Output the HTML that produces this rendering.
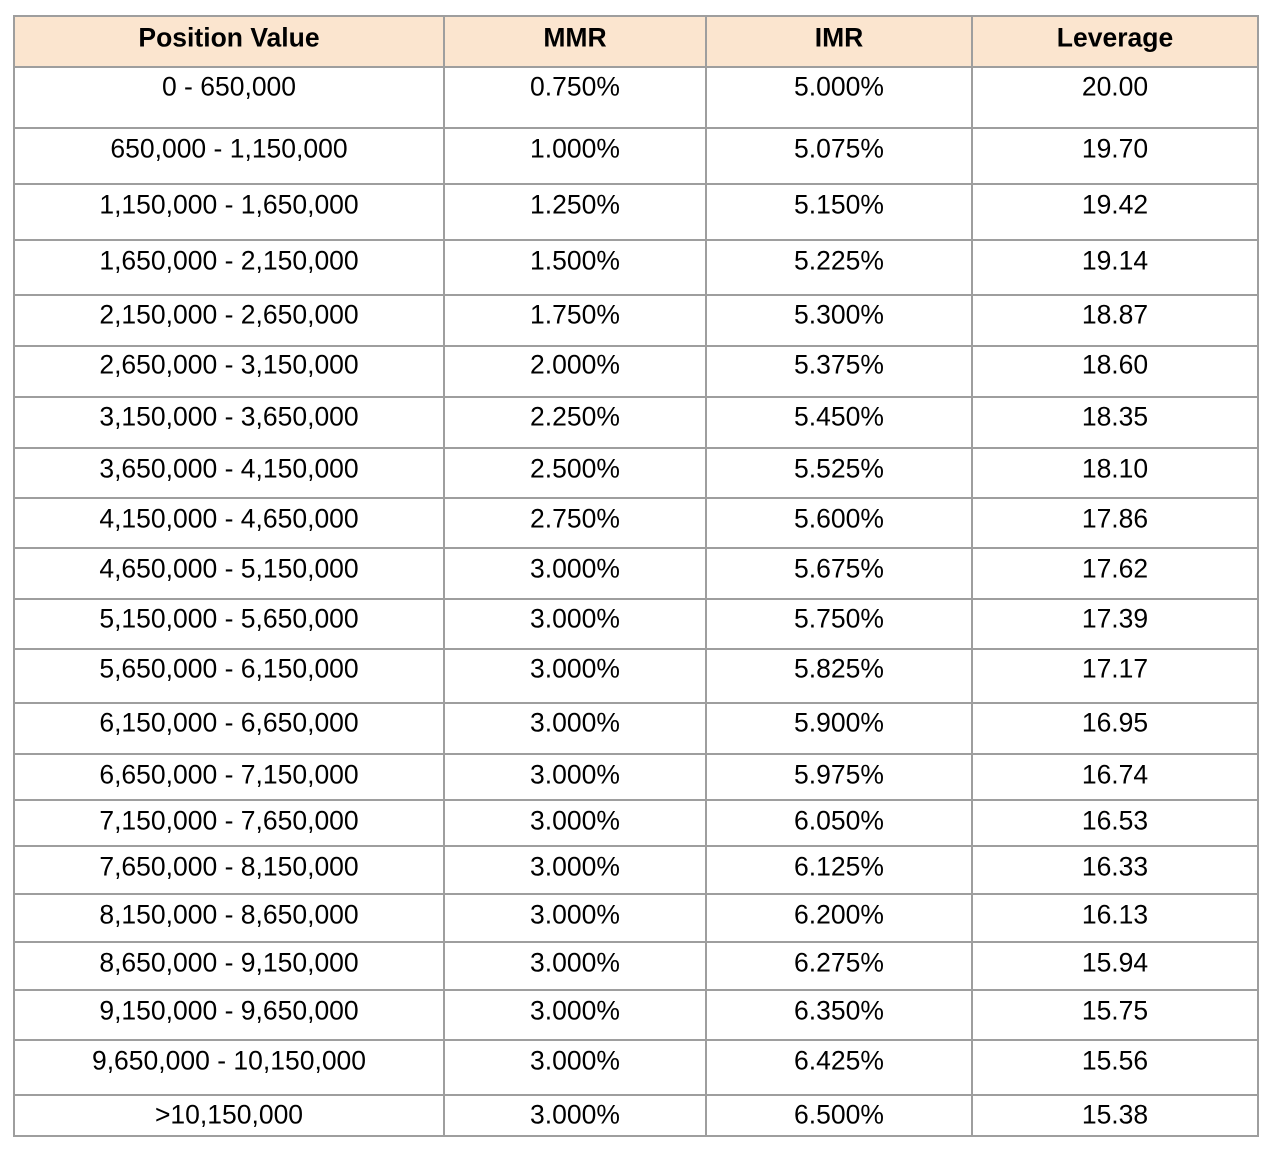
<!DOCTYPE html>
<html><head><meta charset="utf-8"><style>
html,body{margin:0;padding:0;background:#fff;width:1278px;height:1152px;overflow:hidden;position:relative;font-family:"Liberation Sans",Arial,sans-serif;}
.h{position:absolute;left:13px;width:1246px;height:2px;background:#9e9e9e;}
.v{position:absolute;top:15px;width:2px;height:1122px;background:#9e9e9e;}
.hdr{position:absolute;left:13px;top:15px;width:1246px;height:52px;background:#fbe5cf;}
.t{position:absolute;font-size:26.5px;color:#000;transform:translate(-50%,-50%);white-space:nowrap;}
.b{font-weight:bold;}
</style></head><body>
<div class="hdr"></div>
<div id="g"></div>
<script>
const positions=["0 - 650,000","650,000 - 1,150,000","1,150,000 - 1,650,000","1,650,000 - 2,150,000","2,150,000 - 2,650,000","2,650,000 - 3,150,000","3,150,000 - 3,650,000","3,650,000 - 4,150,000","4,150,000 - 4,650,000","4,650,000 - 5,150,000","5,150,000 - 5,650,000","5,650,000 - 6,150,000","6,150,000 - 6,650,000","6,650,000 - 7,150,000","7,150,000 - 7,650,000","7,650,000 - 8,150,000","8,150,000 - 8,650,000","8,650,000 - 9,150,000","9,150,000 - 9,650,000","9,650,000 - 10,150,000",">10,150,000"];
const mmr=["0.750%","1.000%","1.250%","1.500%","1.750%","2.000%","2.250%","2.500%","2.750%","3.000%","3.000%","3.000%","3.000%","3.000%","3.000%","3.000%","3.000%","3.000%","3.000%","3.000%","3.000%"];
const imr=["5.000%","5.075%","5.150%","5.225%","5.300%","5.375%","5.450%","5.525%","5.600%","5.675%","5.750%","5.825%","5.900%","5.975%","6.050%","6.125%","6.200%","6.275%","6.350%","6.425%","6.500%"];
const leverage=["20.00","19.70","19.42","19.14","18.87","18.60","18.35","18.10","17.86","17.62","17.39","17.17","16.95","16.74","16.53","16.33","16.13","15.94","15.75","15.56","15.38"];
const headers=["Position Value","MMR","IMR","Leverage"];
const g=document.getElementById('g');
const hl=[15,66,127,183,239,294,345,396,447,497,547,598,648,702,753,799,845,893,941,989,1039,1094,1135];
const vl=[13,443,705,971,1257];
const cx=[229,575,839,1115];
const cy=[87,149,205,261,315,365,417,469,519,569,619,669,723,775,821,867,915,963,1011,1061,1115];
hl.forEach(y=>{const d=document.createElement('div');d.className='h';d.style.top=y+'px';

g.appendChild(d);});
vl.forEach(x=>{const d=document.createElement('div');d.className='v';d.style.left=x+'px';

g.appendChild(d);});
function txt(s,x,y,bold,name){const d=document.createElement('div');d.className='t'+(bold?' b':'');d.style.left=x+'px';d.style.top=y+'px';d.textContent=s;

g.appendChild(d);}
headers.forEach((h,i)=>txt(h,cx[i],38,true,'header-cell'));
const cols=[positions,mmr,imr,leverage];
const names=['position-value-cell','mmr-cell','imr-cell','leverage-cell'];
cols.forEach((c,i)=>c.forEach((s,r)=>txt(s,cx[i],cy[r],false,names[i])));
</script>
</body></html>
